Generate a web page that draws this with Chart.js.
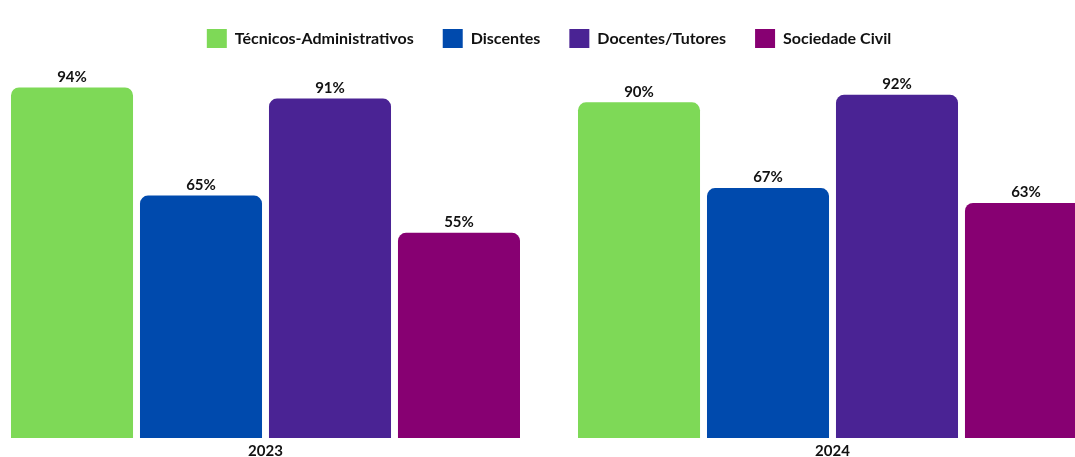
<!DOCTYPE html>
<html>
<head>
<meta charset="utf-8">
<script src="https://cdn.jsdelivr.net/npm/chart.js@4"></script>
<style>
  html, body { margin: 0; padding: 0; background: #fff; overflow: hidden; }
  #wrap { position: relative; width: 1075px; height: 457px; overflow: hidden; }
  #myChart { position: absolute; left: -18px; top: 0; }
</style>
</head>
<body>
<div id="wrap"><canvas id="myChart" width="1134" height="457"></canvas></div>
<script>
var anos = ['2023', '2024'];
var series = ['Técnicos-Administrativos', 'Discentes', 'Docentes/Tutores', 'Sociedade Civil'];
var tecnicos = [94, 90];
var discentes = [65, 67];
var docentes = [91, 92];
var sociedade = [55, 63];

var cores = ['#7ed957', '#004aad', '#4a2394', '#870072'];
var fonte = 'Lato, "Open Sans", sans-serif';

// draws the "94%" labels over each bar
var valueLabels = {
    id: 'valueLabels',
    afterDatasetsDraw: function(chart) {
        var ctx = chart.ctx;
        ctx.save();
        ctx.font = 'bold 15px ' + fonte;
        ctx.fillStyle = '#111';
        ctx.textAlign = 'center';
        ctx.textBaseline = 'bottom';
        chart.data.datasets.forEach(function(ds, i) {
            chart.getDatasetMeta(i).data.forEach(function(bar, j) {
                ctx.fillText(ds.data[j] + '%', bar.x, bar.y - 3);
            });
        });
        ctx.restore();
    }
};

// a bit more room under the legend
var legendGap = {
    id: 'legendGap',
    beforeInit: function(chart) {
        var fitOrig = chart.legend.fit;
        chart.legend.fit = function() {
            fitOrig.bind(chart.legend)();
            this.height += 7;
        };
    }
};

var valores = [tecnicos, discentes, docentes, sociedade];
var barChartData = {
    labels: anos,
    datasets: series.map(function(nome, i) {
        return {
            label: nome,
            data: valores[i],
            backgroundColor: cores[i],
            borderRadius: 8,
            borderSkipped: 'start',
            categoryPercentage: 0.91,
            barPercentage: 0.946
        };
    })
};

var ctxChart = document.getElementById('myChart').getContext('2d');
var chart = new Chart(ctxChart, {
    type: 'bar',
    data: barChartData,
    plugins: [valueLabels, legendGap],
    options: {
        responsive: false,
        animation: false,
        layout: { padding: { top: 0, bottom: 1 } },
        plugins: {
            legend: {
                position: 'top',
                labels: {
                    boxWidth: 20,
                    boxHeight: 19,
                    padding: 29,
                    color: '#111',
                    font: { family: fonte, size: 16, weight: 'bold' }
                }
            },
            tooltip: { enabled: false }
        },
        scales: {
            x: {
                grid: { display: false },
                border: { display: false },
                ticks: {
                    color: '#111',
                    padding: -4,
                    font: { family: fonte, size: 15, weight: 'bold' }
                }
            },
            y: {
                display: false,
                min: 0,
                max: 100
            }
        }
    }
});
</script>
</body>
</html>
